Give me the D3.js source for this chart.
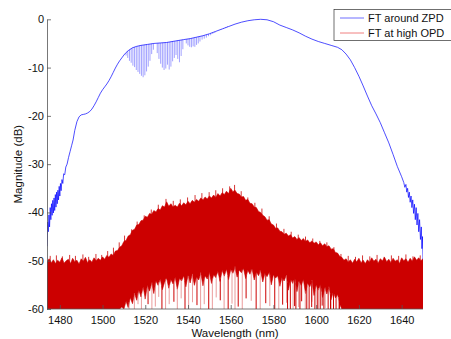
<!DOCTYPE html>
<html>
<head>
<meta charset="utf-8">
<script src="https://cdn.jsdelivr.net/npm/d3@7/dist/d3.min.js"></script>
<style>
  body { margin: 0; background: #fff; }
  svg { display: block; }
  text { font-family: "Liberation Sans", Arial, Helvetica, sans-serif; }
</style>
</head>
<body>
<svg id="chart" width="451" height="339"></svg>
<script>
// tick labels
const xTicks = [1480, 1500, 1520, 1540, 1560, 1580, 1600, 1620, 1640];
const yTicks = [0, -10, -20, -30, -40, -50, -60];
const seriesNames = ["FT around ZPD", "FT at high OPD"];

// FT around ZPD : smooth envelope (nm, dB), noisy at both ends
const blueNm = [1474.0,1474.3,1474.6,1474.9,1475.2,1475.5,1475.8,1476.1,1476.4,1476.7,1477.0,1477.3,1477.6,1477.9,1478.2,1478.5,1478.8,1479.1,1479.4,1479.7,1480.0,1480.3,1480.6,1481.0,1481.4,1481.8,1482.3,1482.8,1483.4,1484.1,1484.8,1485.5,1486.2,1487.0,1488.0,1489.0,1490.0,1491.0,1492.0,1493.0,1494.0,1495.0,1496.0,1497.0,1498.0,1499.0,1500.0,1501.0,1502.0,1503.0,1504.0,1505.0,1506.0,1507.0,1508.0,1509.0,1510.0,1511.0,1512.0,1514.0,1516.0,1518.0,1521.0,1524.0,1527.0,1530.0,1534.0,1538.0,1541.0,1544.0,1547.0,1550.0,1553.0,1556.0,1559.0,1562.0,1565.0,1568.0,1571.0,1574.0,1577.0,1580.0,1583.0,1586.0,1589.0,1592.0,1595.0,1598.0,1601.0,1604.0,1607.0,1610.0,1612.0,1614.0,1616.0,1618.0,1620.0,1622.0,1624.0,1626.0,1628.0,1630.0,1632.0,1634.0,1636.0,1638.0,1640.0,1641.0,1641.5,1642.0,1642.4,1642.8,1643.2,1643.6,1644.0,1644.4,1644.8,1645.2,1645.6,1646.0,1646.4,1646.8,1647.2,1647.6,1648.0,1648.4,1648.8,1649.2,1649.5,1649.8,1650.0];
const blueDb = [-47,-42,-44,-40.5,-43,-39,-41.5,-38.2,-40.6,-37.5,-40.1,-37,-39.6,-36.3,-38.9,-35.8,-38.2,-35.4,-37.4,-34.6,-36.6,-34.0,-35.5,-33.2,-34.0,-32.0,-32.2,-30.6,-30.0,-28.6,-27.4,-26.2,-25.0,-23.0,-21.2,-20.2,-19.8,-19.7,-19.6,-19.4,-19.1,-18.6,-17.9,-17.1,-16.2,-15.3,-14.6,-14.0,-13.4,-12.7,-11.9,-11.0,-10.1,-9.3,-8.6,-8.0,-7.4,-6.9,-6.5,-5.9,-5.6,-5.4,-5.2,-5.0,-4.9,-4.8,-4.5,-4.2,-4.0,-3.7,-3.4,-3.0,-2.5,-2.0,-1.5,-1.0,-0.6,-0.3,-0.1,0,-0.1,-0.5,-1.2,-1.7,-2.2,-2.8,-3.5,-4.1,-4.6,-5.0,-5.4,-5.8,-6.3,-7.2,-8.4,-10.0,-11.8,-13.8,-15.9,-17.9,-19.6,-21.4,-23.5,-25.6,-28.0,-30.5,-32.6,-33.8,-34.8,-34.2,-35.8,-35.0,-36.9,-35.8,-37.9,-36.6,-39.0,-37.4,-40.2,-38.3,-41.5,-39.0,-42.6,-40.2,-44.0,-41.5,-45.6,-43.0,-47.5,-45.0,-49.7];

// fringe dips on the ZPD curve: wavelength and dip bottom (dB)
const dipNm = [1511.0,1511.8,1512.6,1513.4,1514.2,1515.0,1515.8,1516.6,1517.4,1518.2,1519.0,1519.8,1520.6,1521.4,1522.2,1523.0,1523.8,
  1525.6,1526.4,1527.2,1528.0,1528.8,1529.6,1530.4,1531.2,1532.0,1532.8,1533.6,1534.4,1535.2,1536.0,1536.8,1537.6,
  1539.2,1540.0,1540.8,1541.6,1542.4,1543.2,1544.0,1544.8,1545.6,
  1546.6,1547.6,1548.6,1549.6,1550.6,1551.6,1552.6,1553.6,1554.6,1555.6,1556.6,1557.6,1558.6];
const dipDb = [-7.5,-8.0,-8.6,-9.0,-9.6,-9.9,-10.5,-10.9,-11.3,-11.7,-12.0,-11.6,-10.8,-9.8,-8.6,-7.2,-6.3,
  -7.0,-8.2,-9.2,-10.0,-10.5,-10.2,-9.4,-10.4,-9.8,-8.7,-8.0,-7.4,-8.2,-8.9,-7.6,-6.2,
  -5.0,-5.4,-5.7,-5.8,-5.6,-5.7,-5.3,-5.0,-4.6,
  -4.2,-4.0,-3.8,-3.5,-3.3,-3.0,-2.8,-2.4,-2.2,-2.0,-1.8,-1.6,-1.4];

// FT at high OPD : 1 nm grid from 1474 to 1650, top and bottom of the dense band (dB)
const redNm = d3.range(1474, 1651, 1);
const redTop = [
  -50.2,-49.6,-50.4,-49.8,-50.6,-49.9,-50.3,-49.4,-50.5,-50.0,
  -49.7,-50.6,-49.5,-50.2,-49.9,-50.7,-49.6,-50.1,-49.3,-50.4,
  -49.8,-50.3,-49.4,-50.0,-49.5,-49.9,-49.2,-49.7,-48.9,-49.3,
  -48.6,-48.9,-48.0,-47.9,-47.2,-46.9,-46.0,-45.8,-44.9,-44.6,
  -43.7,-43.5,-42.6,-42.5,-41.7,-41.6,-40.8,-41.0,-40.2,-40.4,
  -39.6,-39.9,-39.2,-39.5,-38.6,-38.9,-37.8,-38.7,-38.2,-38.9,
  -38.5,-38.9,-38.1,-38.6,-38.0,-38.4,-37.7,-38.2,-37.5,-37.9,
  -37.3,-37.7,-37.0,-37.4,-36.8,-37.2,-36.6,-37.0,-36.4,-36.9,
  -36.1,-36.6,-35.9,-36.3,-35.6,-36.1,-35.0,-35.7,-35.4,-36.1,
  -36.2,-36.8,-36.7,-37.5,-37.3,-38.1,-38.2,-38.9,-39.0,-39.8,
  -40.0,-40.6,-40.9,-41.6,-41.5,-42.4,-42.6,-43.3,-43.2,-43.9,
  -44.0,-44.5,-44.3,-44.9,-44.6,-45.3,-45.0,-45.6,-45.2,-45.8,
  -45.4,-46.0,-45.7,-46.3,-45.9,-46.4,-46.1,-46.7,-46.3,-46.9,
  -46.5,-47.1,-46.9,-47.6,-47.5,-48.3,-48.4,-49.1,-49.3,-49.9,
  -49.6,-50.3,-49.8,-50.5,-49.7,-50.2,-49.5,-50.4,-49.9,-50.6,
  -49.8,-50.3,-49.4,-50.1,-49.7,-50.5,-49.6,-50.0,-49.3,-50.2,
  -49.7,-50.4,-49.5,-50.1,-49.8,-50.6,-49.4,-50.0,-49.6,-50.3,
  -49.5,-50.1,-49.2,-49.9,-49.4,-50.0,-49.6];
const redBottom = [
  -60,-60,-60,-60,-60,-60,-60,-60,-60,-60,
  -60,-60,-60,-60,-60,-60,-60,-60,-60,-60,
  -60,-60,-60,-60,-60,-60,-60,-60,-60,-60,
  -60,-60,-60,-60,-60,-59.6,-60,-58.4,-59.7,-57.6,
  -58.9,-56.8,-58.2,-56.1,-57.5,-55.4,-57.9,-55.0,-56.3,-54.6,
  -56.8,-54.2,-55.1,-53.8,-56.0,-54.5,-53.6,-55.7,-53.9,-54.8,
  -53.4,-55.9,-53.7,-54.2,-53.1,-55.4,-53.0,-54.6,-52.8,-55.1,
  -53.3,-54.0,-52.6,-55.2,-53.1,-53.8,-52.4,-54.7,-52.9,-53.5,
  -52.2,-54.3,-52.0,-53.2,-51.7,-53.9,-51.8,-52.6,-51.5,-53.4,
  -51.9,-52.5,-51.6,-53.7,-52.0,-52.8,-51.7,-54.0,-52.3,-53.1,
  -52.1,-54.4,-52.6,-53.3,-52.4,-55.0,-52.9,-53.6,-53.1,-55.3,
  -53.4,-54.2,-53.0,-56.1,-53.8,-54.7,-53.5,-56.4,-54.2,-55.1,
  -53.9,-56.8,-54.6,-55.4,-54.3,-57.2,-55.0,-56.1,-54.8,-57.6,
  -55.6,-56.9,-55.3,-58.1,-56.4,-57.7,-57.0,-59.0,-60,-60,
  -60,-60,-60,-60,-60,-60,-60,-60,-60,-60,
  -60,-60,-60,-60,-60,-60,-60,-60,-60,-60,
  -60,-60,-60,-60,-60,-60,-60,-60,-60,-60,
  -60,-60,-60,-60,-60,-60,-60];

// spikes above the band top
const upSpikeNm = [1475.5,1478.4,1481.2,1484.6,1487.3,1490.8,1493.5,1496.9,1499.6,1502.4,1505.1,1507.8,1510.3,1513.6,1516.2,1519.5,1522.8,1526.1,1529.7,1533.1,1536.4,1539.8,1543.3,1546.5,1549.9,1553.0,1556.2,1559.5,1561.8,1564.9,1568.0,1571.3,1574.6,1578.0,1581.4,1584.9,1588.3,1591.6,1595.0,1598.4,1601.7,1605.0,1608.3,1611.6,1615.0,1618.4,1621.7,1625.1,1628.5,1631.8,1635.2,1638.6,1642.0,1645.3,1648.7];
const upSpikeDb = [-49.0,-48.9,-49.1,-48.8,-49.0,-48.7,-49.2,-48.6,-48.8,-48.0,-47.3,-46.2,-44.8,-43.5,-41.9,-40.6,-39.4,-38.4,-37.2,-37.6,-37.3,-36.9,-36.4,-36.0,-35.8,-35.4,-35.0,-34.6,-34.3,-35.6,-36.9,-38.0,-39.2,-40.8,-42.3,-43.4,-44.0,-44.6,-45.0,-45.4,-45.9,-46.2,-47.2,-48.6,-49.0,-49.2,-48.9,-49.1,-48.8,-49.2,-48.9,-49.0,-48.7,-49.1,-48.9];

// deep streaks below the band (dark and faint)
const darkSpikeNm = [1521.3,1527.8,1533.4,1538.6,1544.2,1549.7,1555.1,1558.8,1563.5,1567.2,1571.9,1576.4,1580.6,1584.3,1586.6,1587.9,1589.9,1590.5,1592.4,1593.2,1595.6,1596.7,1597.9,1599.4,1600.5,1601.9,1602.8,1603.6,1605.6,1606.7,1608.1,1609.3,1610.9];
const darkSpikeDb = [-59,-60,-58.5,-60,-59.2,-60,-58.2,-60,-59.5,-57.8,-60,-58.8,-60,-59.1,-60,-60,-59.4,-60,-60,-58.4,-60,-60,-59.6,-60,-60,-60,-59.3,-60,-60,-60,-60,-60,-60];
const lightSpikeNm = [1512.4,1514.9,1516.6,1518.2,1519.9,1523.1,1524.7,1526.3,1529.5,1531.2,1535.0,1536.8,1540.3,1542.1,1545.9,1547.6,1551.4,1553.2,1556.9,1560.6,1562.0,1565.4,1569.6,1573.8,1578.3,1582.5,1586.1,1589.2,1591.8,1594.9,1598.0,1601.1,1604.2,1607.0,1610.4];
const lightSpikeDb = [-60,-60,-59,-60,-58,-60,-59.5,-57.5,-60,-59,-60,-57.8,-60,-58.6,-60,-59,-60,-57.6,-60,-58.9,-60,-60,-58.3,-60,-59.4,-60,-58.7,-60,-59.6,-60,-58.5,-60,-59.8,-60,-60];

const svg = d3.select("#chart");
const mLeft = 47, mRight = 423, mTop = 19.3, mBottom = 309;

const x = d3.scaleLinear().domain([1474, 1650]).range([mLeft, mRight]);
const y = d3.scaleLinear().domain([-60, 0]).range([mBottom, mTop]);

svg.append("clipPath").attr("id", "plot")
  .append("rect").attr("x", mLeft).attr("y", mTop - 2)
  .attr("width", mRight - mLeft).attr("height", mBottom - mTop + 2);

const plot = svg.append("g").attr("clip-path", "url(#plot)");

// linear lookup along a series, used to hang streaks on the curves
function lookup(xs, ys, v) {
  const i = Math.max(1, Math.min(xs.length - 1, d3.bisectLeft(xs, v)));
  const t = (v - xs[i - 1]) / (xs[i] - xs[i - 1]);
  return ys[i - 1] + t * (ys[i] - ys[i - 1]);
}

function streaks(xs, ys, baseY, color, opacity, width) {
  plot.append("g").selectAll("line")
    .data(xs.map((d, i) => [d, ys[i]]))
    .enter().append("line")
    .attr("x1", d => x(d[0])).attr("x2", d => x(d[0]))
    .attr("y1", d => y(baseY(d[0])))
    .attr("y2", d => y(d[1]))
    .attr("stroke", color)
    .attr("stroke-opacity", opacity)
    .attr("stroke-width", width);
}

// red band
const redData = redNm.map((d, i) => ({ nm: d, hi: redTop[i], lo: redBottom[i] }));
plot.append("path")
  .datum(redData)
  .attr("d", d3.area().x(d => x(d.nm)).y0(d => y(d.lo)).y1(d => y(d.hi)))
  .attr("fill", "#cc0000")
  .attr("stroke", "#cc0000")
  .attr("stroke-width", 0.6);

streaks(upSpikeNm, upSpikeDb, v => lookup(redNm, redTop, v) - 0.3, "#cc0000", 1, 0.8);
streaks(lightSpikeNm, lightSpikeDb, v => lookup(redNm, redBottom, v) + 0.3, "#e06a6a", 0.75, 0.9);
streaks(darkSpikeNm, darkSpikeDb, v => lookup(redNm, redBottom, v) + 0.3, "#cc0000", 1, 1);

// blue curve and its fringes
streaks(dipNm, dipDb, v => lookup(blueNm, blueDb, v), "#3a3aff", 0.8, 0.6);

plot.append("path")
  .datum(blueNm.map((d, i) => [d, blueDb[i]]))
  .attr("d", d3.line().x(d => x(d[0])).y(d => y(d[1])))
  .attr("fill", "none")
  .attr("stroke", "#0000ff")
  .attr("stroke-width", 0.7);

// axes
const fmt = d => String(d);
const xAxis = svg.append("g")
  .attr("transform", "translate(0," + mBottom + ")")
  .call(d3.axisBottom(x).tickValues(xTicks).tickFormat(fmt).tickSizeInner(-4).tickSizeOuter(0).tickPadding(7));
const yAxis = svg.append("g")
  .attr("transform", "translate(" + mLeft + ",0)")
  .call(d3.axisLeft(y).tickValues(yTicks).tickFormat(fmt).tickSizeInner(-4).tickSizeOuter(0).tickPadding(3));

[xAxis, yAxis].forEach(g => {
  g.select(".domain").attr("stroke", "#555").attr("stroke-width", 0.8);
  g.selectAll(".tick line").attr("stroke", "#555").attr("stroke-width", 0.8);
  g.selectAll(".tick text").attr("fill", "#111")
    .style("font-family", "'Liberation Sans', Arial, sans-serif")
    .style("font-size", "11px");
});
xAxis.select(".domain").attr("d", "M" + mLeft + ",0H" + mRight);

svg.append("text")
  .attr("x", (mLeft + mRight) / 2)
  .attr("y", 337)
  .attr("text-anchor", "middle")
  .attr("fill", "#111")
  .style("font-size", "11.5px")
  .text("Wavelength (nm)");

svg.append("text")
  .attr("text-anchor", "middle")
  .attr("transform", "translate(22," + ((mTop + mBottom) / 2) + ")rotate(-90)")
  .attr("fill", "#111")
  .style("font-size", "11.5px")
  .text("Magnitude (dB)");

// legend
const legend = svg.append("g");
legend.append("rect")
  .attr("x", 334).attr("y", 9.5)
  .attr("width", 120).attr("height", 31)
  .attr("fill", "#fff")
  .attr("stroke", "#333")
  .attr("stroke-width", 0.7);
const legendColors = ["#6f6fff", "#f08080"];
seriesNames.forEach((name, i) => {
  const ly = 18 + i * 15;
  legend.append("line")
    .attr("x1", 340).attr("x2", 364)
    .attr("y1", ly).attr("y2", ly)
    .attr("stroke", legendColors[i])
    .attr("stroke-width", 1);
  legend.append("text")
    .attr("x", 368).attr("y", ly + 4)
    .attr("fill", "#111")
    .style("font-size", "11px")
    .text(name);
});
</script>
</body>
</html>
